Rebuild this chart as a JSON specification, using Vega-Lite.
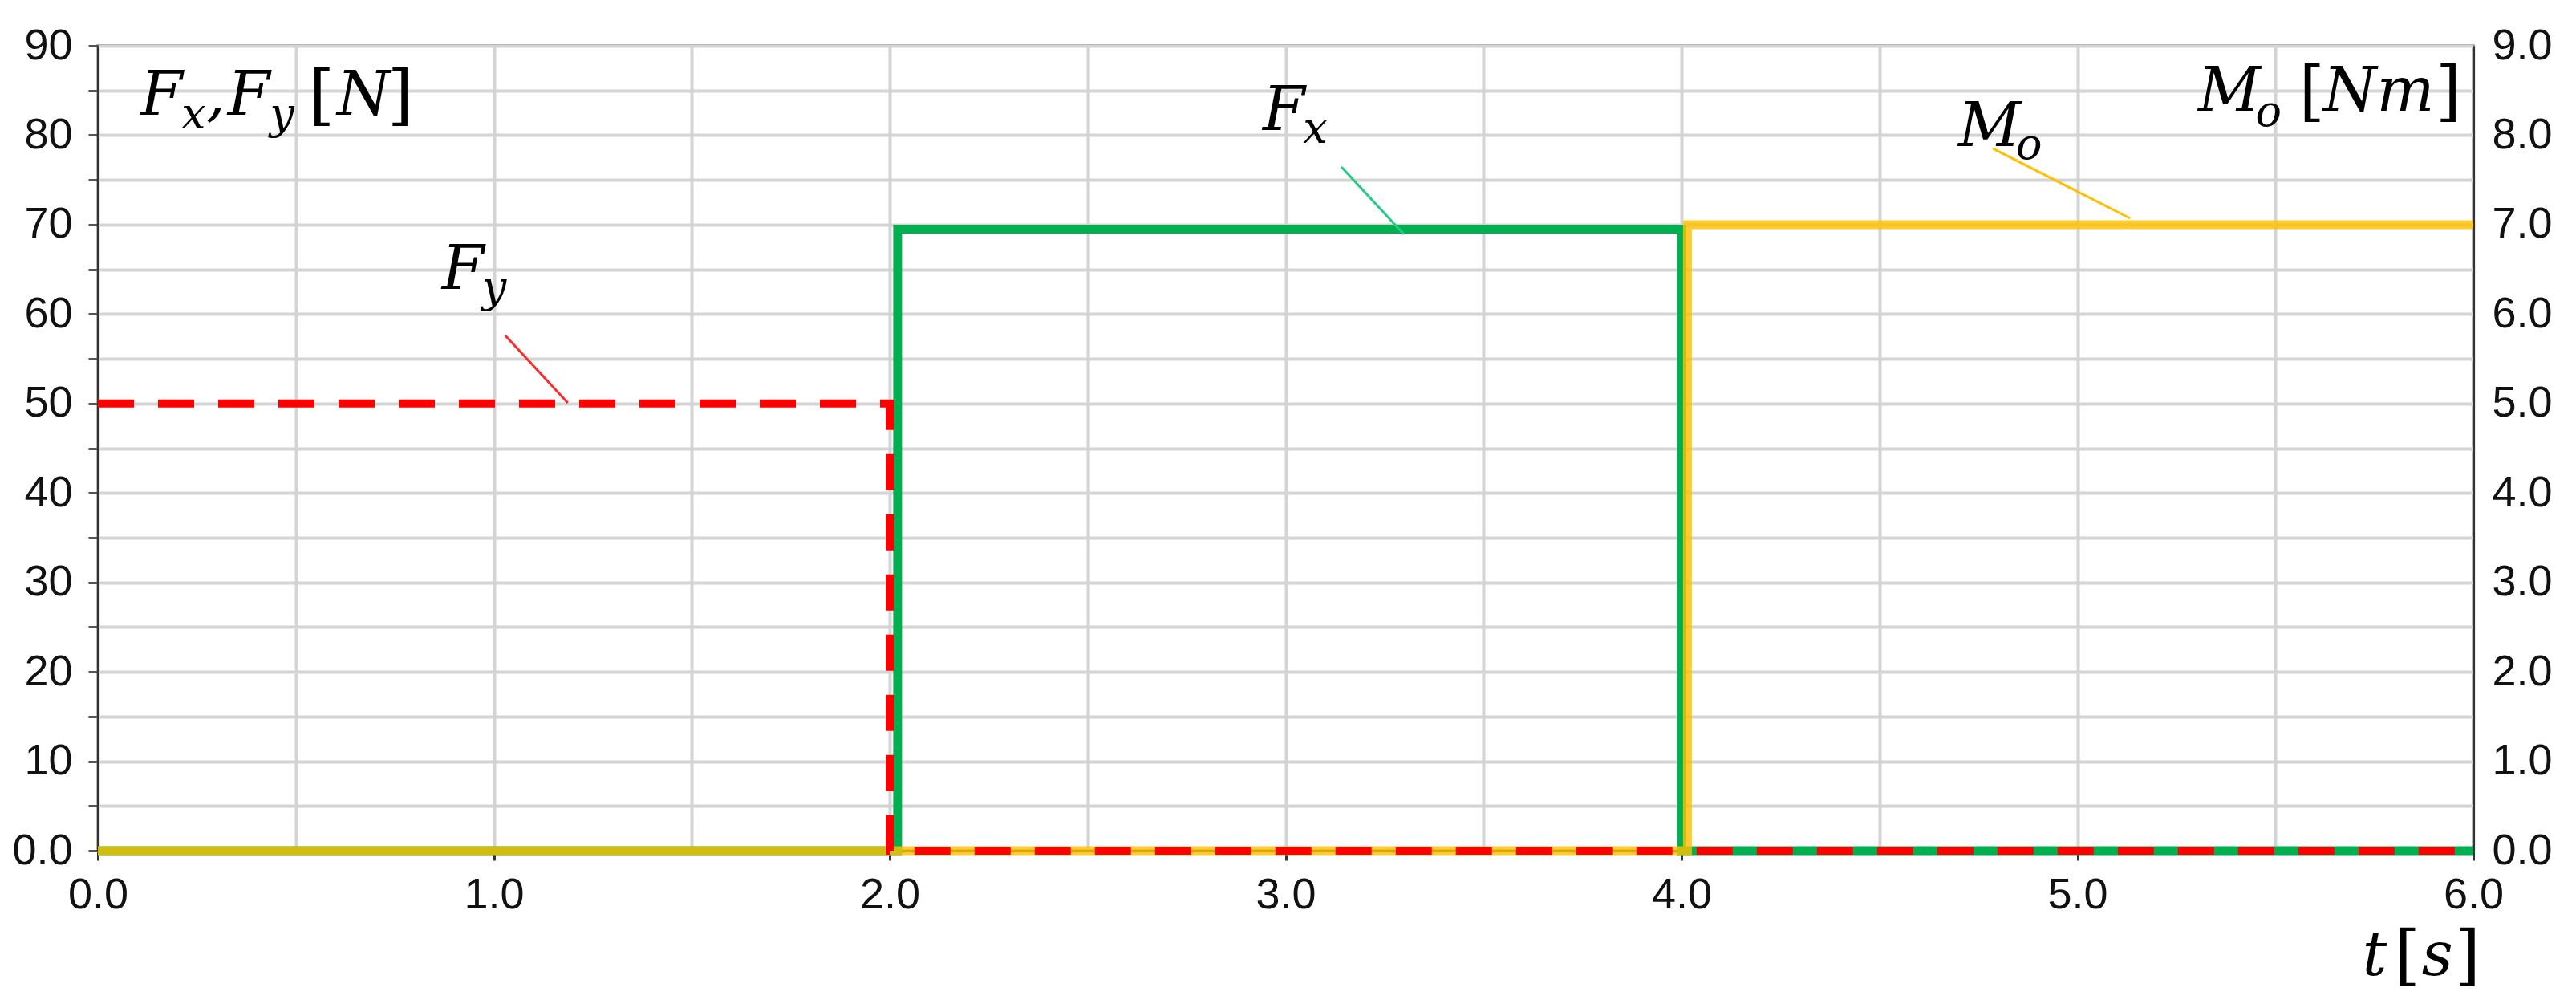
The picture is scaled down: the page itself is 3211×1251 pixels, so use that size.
{
  "$schema": "https://vega.github.io/schema/vega-lite/v6.json",
  "width": 2961,
  "height": 1003,
  "autosize": {"type": "none"},
  "padding": {"left": 122, "top": 57, "right": 128, "bottom": 191},
  "background": "white",
  "config": {
    "view": {"stroke": "#333333", "strokeWidth": 3}
  },
  "datasets": {
    "series": [
      {"s": "Fx", "i": 0, "t": 0, "v": 0},
      {"s": "Fx", "i": 1, "t": 2.02, "v": 0},
      {"s": "Fx", "i": 2, "t": 2.02, "v": 69.5},
      {"s": "Fx", "i": 3, "t": 4.0, "v": 69.5},
      {"s": "Fx", "i": 4, "t": 4.0, "v": 0},
      {"s": "Fx", "i": 5, "t": 6.0, "v": 0},
      {"s": "Fy", "i": 0, "t": 0, "v": 50},
      {"s": "Fy", "i": 1, "t": 2.0, "v": 50},
      {"s": "Fy", "i": 2, "t": 2.0, "v": 0},
      {"s": "Fy", "i": 3, "t": 6.0, "v": 0},
      {"s": "Mo", "i": 0, "t": 0, "v": 0},
      {"s": "Mo", "i": 1, "t": 4.015, "v": 0},
      {"s": "Mo", "i": 2, "t": 4.015, "v": 7.0},
      {"s": "Mo", "i": 3, "t": 6.0, "v": 7.0}
    ],
    "leaders": [
      {"s": "Fx", "t": 3.141, "v": 76.45, "t2": 3.299, "v2": 68.92},
      {"s": "Fy", "t": 1.029, "v": 57.61, "t2": 1.187, "v2": 50.07},
      {"s": "Mo", "t": 4.786, "v": 78.52, "t2": 5.133, "v2": 70.71}
    ],
    "labels": [
      {"kind": "main", "text": "F", "t": 0.1074, "v": 82.29},
      {"kind": "sub", "text": "x", "t": 0.2107, "v": 80.76},
      {"kind": "main", "text": ",", "t": 0.2736, "v": 82.29},
      {"kind": "main", "text": "F", "t": 0.328, "v": 82.29},
      {"kind": "sub", "text": "y", "t": 0.434, "v": 80.76},
      {"kind": "bracket", "text": "[", "t": 0.533, "v": 82.02},
      {"kind": "main", "text": "N", "t": 0.604, "v": 82.29},
      {"kind": "bracket", "text": "]", "t": 0.7315, "v": 82.02},
      {"kind": "main", "text": "M", "t": 5.305, "v": 82.73},
      {"kind": "sub", "text": "o", "t": 5.450, "v": 81.03},
      {"kind": "bracket", "text": "[", "t": 5.560, "v": 82.47},
      {"kind": "main", "text": "Nm", "t": 5.621, "v": 82.73},
      {"kind": "bracket", "text": "]", "t": 5.905, "v": 82.47},
      {"kind": "main", "text": "F", "t": 2.942, "v": 80.58},
      {"kind": "sub", "text": "x", "t": 3.044, "v": 79.15},
      {"kind": "main", "text": "F", "t": 0.869, "v": 62.81},
      {"kind": "sub", "text": "y", "t": 0.970, "v": 61.38},
      {"kind": "main", "text": "M", "t": 4.699, "v": 78.79},
      {"kind": "sub", "text": "o", "t": 4.845, "v": 77.35},
      {"kind": "main", "text": "t", "t": 5.720, "v": -13.91},
      {"kind": "bracket", "text": "[", "t": 5.801, "v": -14.18},
      {"kind": "main", "text": "s", "t": 5.870, "v": -13.91},
      {"kind": "bracket", "text": "]", "t": 5.953, "v": -14.18}
    ]
  },
  "encoding": {
    "x": {
      "field": "t",
      "type": "quantitative",
      "scale": {"domain": [0, 6], "nice": false, "zero": false},
      "axis": {
        "title": null,
        "values": [0, 0.5, 1, 1.5, 2, 2.5, 3, 3.5, 4, 4.5, 5, 5.5, 6],
        "labelExpr": "datum.value % 1 === 0 ? format(datum.value, '.1f') : ''",
        "labelFont": "Liberation Sans",
        "labelFontSize": 54,
        "labelColor": "#111111",
        "labelPadding": 16,
        "labelFlush": false,
        "labelOverlap": false,
        "grid": true,
        "gridColor": "#d4d4d4",
        "gridWidth": 4,
        "tickSize": 12,
        "tickWidth": 3,
        "tickColor": {"condition": {"test": "datum.value % 1 === 0", "value": "#333333"}, "value": "transparent"},
        "domainColor": "#333333",
        "domainWidth": 3
      }
    }
  },
  "layer": [
    {
      "data": {"name": "series"},
      "transform": [{"filter": "datum.s === 'Fx'"}],
      "mark": {"type": "line", "stroke": "#00B050", "strokeWidth": 11, "strokeJoin": "miter", "strokeCap": "butt"},
      "encoding": {
        "y": {
          "field": "v",
          "type": "quantitative",
          "scale": {"domain": [0, 90], "nice": false},
          "axis": {
            "title": null,
            "orient": "left",
            "values": [0, 5, 10, 15, 20, 25, 30, 35, 40, 45, 50, 55, 60, 65, 70, 75, 80, 85, 90],
            "labelExpr": "datum.value % 10 === 0 ? (datum.value === 0 ? '0.0' : format(datum.value, 'd')) : ''",
            "labelFont": "Liberation Sans",
            "labelFontSize": 54,
            "labelColor": "#111111",
            "labelPadding": 20,
            "labelOverlap": false,
            "labelBound": false,
            "labelFlush": false,
            "grid": true,
            "gridColor": "#d4d4d4",
            "gridWidth": 4,
            "tickSize": 12,
            "tickWidth": 3,
            "tickColor": "#555555",
            "domainColor": "#333333",
            "domainWidth": 3
          }
        },
        "order": {"field": "i", "type": "quantitative"}
      }
    },
    {
      "data": {"name": "series"},
      "transform": [{"filter": "datum.s === 'Mo'"}],
      "mark": {"type": "line", "stroke": "#FFC000", "strokeWidth": 11, "strokeOpacity": 0.82, "strokeJoin": "miter", "strokeCap": "butt"},
      "encoding": {
        "y": {
          "field": "v",
          "type": "quantitative",
          "scale": {"domain": [0, 9], "nice": false},
          "axis": {
            "title": null,
            "orient": "right",
            "values": [0, 1, 2, 3, 4, 5, 6, 7, 8, 9],
            "format": ".1f",
            "labelFont": "Liberation Sans",
            "labelFontSize": 54,
            "labelColor": "#111111",
            "labelPadding": 23,
            "labelOverlap": false,
            "labelFlush": false,
            "ticks": false,
            "grid": false,
            "domainColor": "#333333",
            "domainWidth": 3
          }
        },
        "order": {"field": "i", "type": "quantitative"}
      }
    },
    {
      "data": {"name": "series"},
      "transform": [{"filter": "datum.s === 'Fy'"}],
      "mark": {"type": "line", "stroke": "#FF0000", "strokeWidth": 10, "strokeDash": [45, 30], "strokeJoin": "miter", "strokeCap": "butt"},
      "encoding": {
        "y": {"field": "v", "type": "quantitative", "scale": {"domain": [0, 90], "nice": false}, "axis": null},
        "order": {"field": "i", "type": "quantitative"}
      }
    },
    {
      "data": {"name": "leaders"},
      "mark": {"type": "rule", "strokeWidth": 3},
      "encoding": {
        "x2": {"field": "t2"},
        "y": {"field": "v", "type": "quantitative", "scale": {"domain": [0, 90], "nice": false}, "axis": null},
        "y2": {"field": "v2"},
        "color": {"field": "s", "type": "nominal", "scale": {"domain": ["Fx", "Fy", "Mo"], "range": ["#22CC88", "#FF2A2A", "#FFC000"]}, "legend": null}
      }
    },
    {
      "data": {"name": "labels"},
      "transform": [{"filter": "datum.kind === 'main'"}],
      "mark": {"type": "text", "font": "DejaVu Serif", "fontStyle": "italic", "fontSize": 76, "align": "left", "baseline": "alphabetic", "color": "#000000"},
      "encoding": {
        "y": {"field": "v", "type": "quantitative", "scale": {"domain": [0, 90], "nice": false}, "axis": null},
        "text": {"field": "text"}
      }
    },
    {
      "data": {"name": "labels"},
      "transform": [{"filter": "datum.kind === 'sub'"}],
      "mark": {"type": "text", "font": "DejaVu Serif", "fontStyle": "italic", "fontSize": 54, "align": "left", "baseline": "alphabetic", "color": "#000000"},
      "encoding": {
        "y": {"field": "v", "type": "quantitative", "scale": {"domain": [0, 90], "nice": false}, "axis": null},
        "text": {"field": "text"}
      }
    },
    {
      "data": {"name": "labels"},
      "transform": [{"filter": "datum.kind === 'bracket'"}],
      "mark": {"type": "text", "font": "DejaVu Serif", "fontSize": 82, "align": "left", "baseline": "alphabetic", "color": "#000000"},
      "encoding": {
        "y": {"field": "v", "type": "quantitative", "scale": {"domain": [0, 90], "nice": false}, "axis": null},
        "text": {"field": "text"}
      }
    }
  ],
  "resolve": {"scale": {"y": "independent"}, "axis": {"y": "independent"}}
}
